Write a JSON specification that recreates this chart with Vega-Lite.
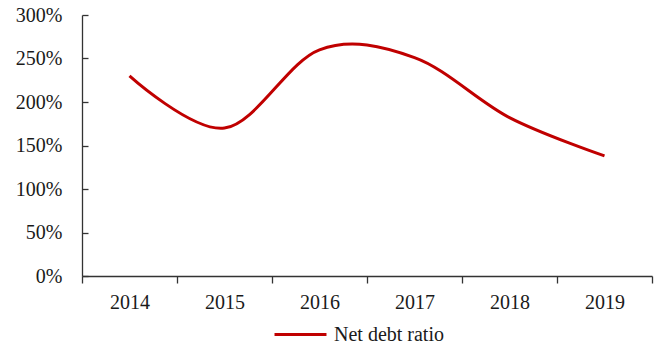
{
  "$schema": "https://vega.github.io/schema/vega-lite/v6.json",
  "autosize": {"type": "none"},
  "width": 570,
  "height": 261,
  "padding": {"left": 82, "top": 15, "right": 5, "bottom": 65},
  "background": "white",
  "config": {
    "view": {"stroke": null},
    "font": "Liberation Serif",
    "axis": {"labelFont": "Liberation Serif", "labelFontSize": 20, "labelColor": "#1a1a1a", "domainColor": "#333333", "tickColor": "#333333", "domainWidth": 1.3, "tickWidth": 1.3, "grid": false, "title": null},
    "legend": {"labelFont": "Liberation Serif", "labelFontSize": 20, "labelColor": "#1a1a1a"}
  },
  "data": {
    "values": [
      {"year": "2014", "ratio": 2.30, "series": "Net debt ratio"},
      {"year": "2015", "ratio": 1.70, "series": "Net debt ratio"},
      {"year": "2016", "ratio": 2.60, "series": "Net debt ratio"},
      {"year": "2017", "ratio": 2.51, "series": "Net debt ratio"},
      {"year": "2018", "ratio": 1.82, "series": "Net debt ratio"},
      {"year": "2019", "ratio": 1.38, "series": "Net debt ratio"}
    ]
  },
  "mark": {"type": "line", "interpolate": "cardinal", "strokeWidth": 3, "strokeCap": "butt"},
  "encoding": {
    "x": {
      "field": "year", "type": "ordinal",
      "scale": {"type": "band", "paddingInner": 0, "paddingOuter": 0},
      "axis": {"labelAngle": 0, "tickBand": "extent", "tickSize": 7, "labelPadding": 9, "domain": true}
    },
    "y": {
      "field": "ratio", "type": "quantitative",
      "scale": {"domain": [0, 3], "nice": false, "zero": true},
      "axis": {"values": [0, 0.5, 1, 1.5, 2, 2.5, 3], "format": ".0%", "tickSize": -6, "labelPadding": 26}
    },
    "color": {
      "field": "series", "type": "nominal",
      "scale": {"range": ["#C00000"]},
      "legend": {"title": null, "orient": "none", "legendX": 191, "legendY": 292, "direction": "horizontal", "symbolType": "stroke", "symbolSize": 2700, "symbolStrokeWidth": 3, "labelOffset": 6, "padding": 0}
    }
  }
}
